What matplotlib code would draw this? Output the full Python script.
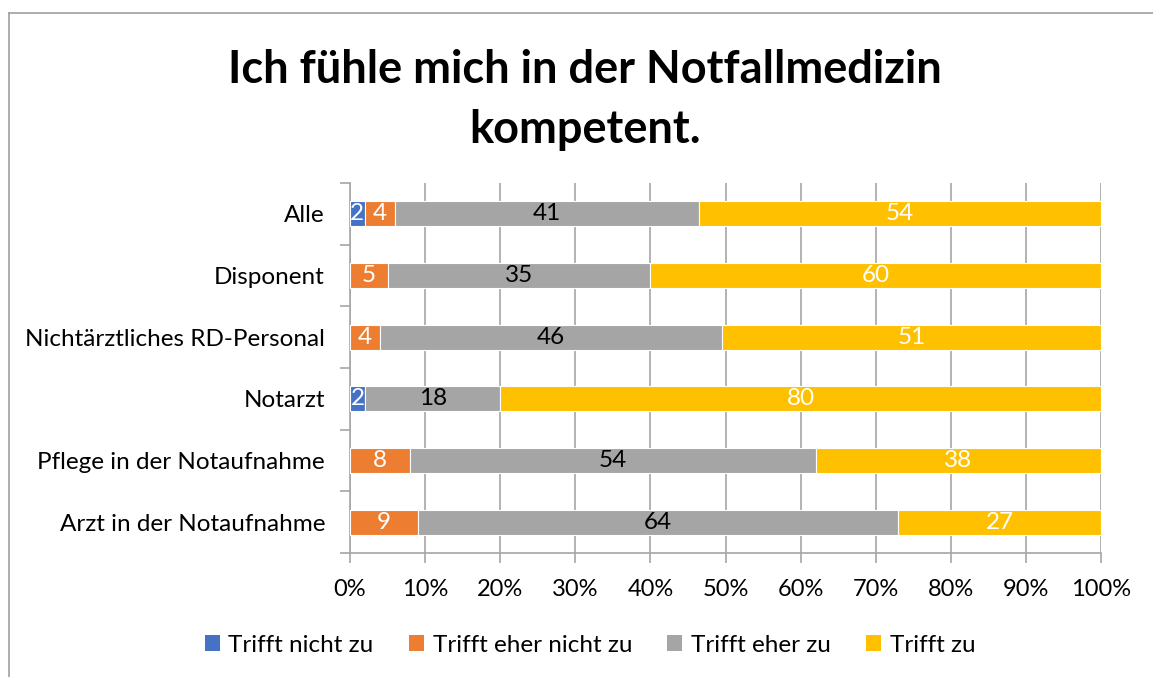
import numpy as np
import matplotlib
matplotlib.use("Agg")
import matplotlib.pyplot as plt
from matplotlib.lines import Line2D
from matplotlib.patches import Patch

plt.rcParams['font.family'] = ['Lato', 'DejaVu Sans']

categories = ["Alle", "Disponent", "Nichtärztliches RD-Personal", "Notarzt",
              "Pflege in der Notaufnahme", "Arzt in der Notaufnahme"]
series_names = ["Trifft nicht zu", "Trifft eher nicht zu", "Trifft eher zu", "Trifft zu"]
trifft_nicht = [2, 0, 0, 2, 0, 0]
trifft_eher_nicht = [4, 5, 4, 0, 8, 9]
trifft_eher = [41, 35, 46, 18, 54, 64]
trifft = [54, 60, 51, 80, 38, 27]
colors = ["#4472C4", "#ED7D31", "#A5A5A5", "#FFC000"]
label_colors = ["white", "white", "black", "white"]
x_ticks = [0, 10, 20, 30, 40, 50, 60, 70, 80, 90, 100]

W, H = 1153, 677
fs = 17.5
fig = plt.figure(figsize=(W / 100, H / 100), dpi=100)
ax = fig.add_axes([350 / W, 1 - 553 / H, 751 / W, 370 / H])

data = np.array([trifft_nicht, trifft_eher_nicht, trifft_eher, trifft], dtype=float)
pct = data / data.sum(axis=0) * 100
ypos = np.arange(len(categories))[::-1]

left = np.zeros(len(categories))
for i, name in enumerate(series_names):
    bars = ax.barh(ypos, pct[i], left=left, height=0.4, color=colors[i],
                   edgecolor="white", linewidth=0.8, label=name, zorder=3)
    for j, b in enumerate(bars):
        if data[i, j] > 0:
            ax.text(left[j] + pct[i, j] / 2, ypos[j], f"{int(data[i, j])}",
                    ha="center", va="center", color=label_colors[i],
                    fontsize=fs, zorder=4)
    left += pct[i]

ax.set_xlim(0, 100)
ax.set_ylim(-0.5, len(categories) - 0.5)
ax.set_xticks(x_ticks)
ax.set_xticklabels([f"{t}%" for t in x_ticks], fontsize=17)
ax.set_yticks(ypos)
ax.set_yticklabels(categories, fontsize=fs)
ax.set_yticks(np.arange(-0.5, len(categories), 1.0), minor=True)
ax.tick_params(axis="y", which="major", length=0, pad=18)
ax.tick_params(axis="y", which="minor", length=7, color="#A6A6A6", width=1.2)
ax.tick_params(axis="x", length=7, color="#A6A6A6", width=1.2, pad=12)
ax.grid(axis="x", color="#A6A6A6", linewidth=1.2, zorder=0)
for s in ["top", "right"]:
    ax.spines[s].set_visible(False)
for s in ["left", "bottom"]:
    ax.spines[s].set_color("#A6A6A6")
    ax.spines[s].set_linewidth(1.2)

fig.text(585 / W, 1 - 70 / H, "Ich fühle mich in der Notfallmedizin", ha="center",
         va="center", fontsize=32.5, fontweight="bold")
fig.text(585 / W, 1 - 130 / H, "kompetent.", ha="center", va="center",
         fontsize=32.5, fontweight="bold")

handles = [Patch(facecolor=c, edgecolor="none") for c in colors]
fig.legend(handles, series_names, loc="center", bbox_to_anchor=(590 / W, 1 - 645 / H),
           ncol=4, frameon=False, fontsize=fs, handlelength=0.62, handleheight=0.62,
           handletextpad=0.35, columnspacing=1.45)

# chart border (top and left edges visible)
fig.add_artist(Line2D([9 / W, 1], [1 - 13 / H, 1 - 13 / H], color="#A0A0A0", linewidth=1.2))
fig.add_artist(Line2D([9 / W, 9 / W], [0, 1 - 13 / H], color="#A0A0A0", linewidth=1.2))

fig.savefig("out.png", dpi=100)
